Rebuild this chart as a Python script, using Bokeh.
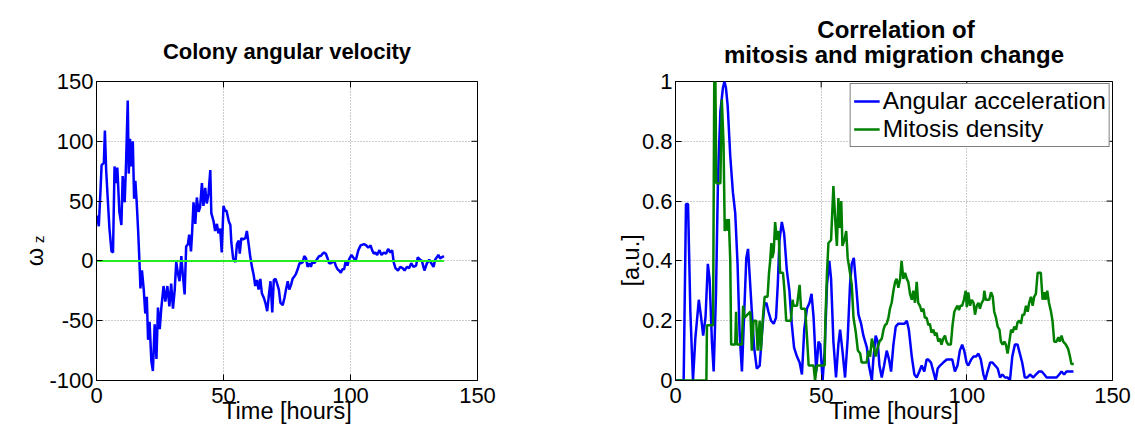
import math
from bokeh.plotting import figure
from bokeh.models import Range1d, LinearAxis, FixedTicker
from bokeh.layouts import row
from bokeh.embed import file_html
from bokeh.resources import INLINE

FONT = "Liberation Sans"

# ---------------- data: colony angular velocity ----------------
t_omega = [0.25, 0.9, 1.6, 2, 2.9, 3.3, 3.8, 4.4, 5.1, 5.9, 6.5, 7.1, 7.7, 8.2, 9, 9.8, 10.3, 11.1, 11.6,
           12.3, 12.7, 13.2, 13.7, 14.3, 14.8, 15.3, 15.8, 16.4, 16.9, 17.3, 17.9, 18.6, 19.2, 19.8, 20.3,
           20.9, 21.6, 22.2, 22.9, 23.6, 24.2, 24.9, 25.5, 26.4, 27.1, 27.9, 28.7, 29.4, 30.1, 30.8, 31.4,
           32.1, 32.7, 33.4, 34.0, 34.7, 35.3, 36, 36.5, 37.2, 37.6, 38.2, 38.9, 39.5, 40.2, 40.8, 41.5,
           42.1, 42.8, 43.4, 44.1, 44.8, 45.2, 46.1, 46.7, 47.4, 48.0, 48.7, 49.3, 50, 50.6,
           51.2, 52.1, 52.7, 53.1, 53.8, 54.7, 55.3, 56, 56.4, 57, 57.7, 58.6, 59.2, 59.9, 60.5, 61.2,
           61.9, 62.5, 63.2, 63.8, 64.5, 65.1, 65.9, 66.5, 67.2, 67.9, 68.5, 69.2, 69.8, 70.5, 71.1, 71.8,
           72.4, 73.3, 74, 74.6, 75.3, 75.9, 76.6, 77.2, 77.9, 78.5, 79.2, 79.9, 80.5, 81.2, 81.8, 82.5,
           83.1, 83.8, 84.4, 85.1, 85.7, 86.4, 87, 87.7, 88.3, 89, 89.6, 90.3, 91, 91.6, 92.3, 92.9, 93.6,
           94.2, 94.9, 95.5, 96.2, 96.8, 97.5, 98.1, 98.8, 99.4,
           100.4, 102, 103.1, 104, 105.3, 106.2, 107, 107.9, 108.5, 109.2, 109.8, 110.5, 111.4, 112.2,
           113.1, 114, 114.8, 115.7, 116.4, 117, 117.7, 118.7, 119.6, 120.5, 121.3, 122.2, 123.1, 123.9,
           124.8, 125.8, 126.5, 127.4, 128.1, 129.1, 130.1, 131, 131.8, 132.7, 133.3, 134, 134.6, 135.3,
           135.9, 136.8]
omega = [38, 29, 60, 80, 82, 109, 76, 53, 27, 8, 7, 79, 65, 78, 41, 30, 71, 49, 79,
         134, 73, 102, 79, 100, 52, 67, 50, 25, 0, -23, -8, -24, -44, -30, -66,
         -51, -84, -92, -53, -82, -39, -57, -40, -21, -34, -21, -38, -19, -40, -24, -1,
         -11, -17, 4, -12, -28, 12, 14, 22, 8, 22, 49, 31, 53, 41, 45, 65,
         46, 61, 48, 56, 76, 40, 33, 25, 31, 23, 27, 7, 46, 42,
         42, 33, 30, 15, 2, -1, 14, 17, 6, 19, 18, 19, 25, 14, 4, -5,
         -12, -21, -16, -24, -15, -27, -31, -35, -42, -28, -17, -43, -16, -15, -19, -24,
         -35, -37, -31, -24, -17, -24, -20, -15, -13, -11, -7, -2, -2, -1, 4, 2,
         -5, -2, -5, 0, -2, 0, 2, 4, 4, 6, 7, 6, 2, -2, -2, -1, 0,
         -4, -7, -8, -10, -7, -7, 0, -4, 1,
         5, 0, 9, 13, 14, 13, 11, 13, 9, 6, 7, 5, 9, 5,
         7, 6, 10, 7, 9, -1, -6, -8, -5, -6, -8, -5, -6, -2,
         -5, -4, 3, 1, 0, -8, -2, 1, -2, -5, 1, 3, 5, 2,
         3, 4]
zero_t = [0, 136.8]
zero_v = [0, 0]

# ---------------- data: correlation plot ----------------
t_acc = [0, 2.8, 3.6, 4.3, 5.1, 6.0, 6.8, 8.0, 8.8, 9.5, 10.3, 11.1, 11.7, 12.5, 13.1, 13.9, 14.6, 15.4,
         16.3, 16.8, 17.3, 17.9, 18.8, 19.7, 20.5, 21.3, 22.0, 22.8, 23.6, 24.3, 24.9, 25.4, 26.2, 27.0,
         27.9, 28.9, 29.7, 30.5, 31.2, 31.9, 32.8, 33.7, 34.5, 35.1, 35.7, 36.5, 37.3, 38.2, 39.1, 39.9,
         40.7, 41.7, 42.6, 43.4, 44.2, 45.1, 46.0, 46.7, 47.4, 48.3, 49.1, 49.7, 50.5, 51.2, 52.0, 52.8,
         53.4, 54.2, 55.1, 55.9, 56.5, 57.3, 58.2, 59.1, 59.9, 60.5, 61.2, 61.9, 62.8, 63.7, 64.5, 65.7,
         66.4, 67.4, 67.9, 68.7, 69.4, 70.0, 70.8, 71.6, 72.5, 73.3, 74.0, 74.8, 75.6, 76.5, 77.6, 78.6,
         79.4, 80.1, 81.1, 82.0, 82.8, 83.7, 84.5, 85.4, 86.2, 86.8, 87.7, 88.5, 89.3, 90.0, 90.8, 91.9,
         93.1, 94.2, 95.0, 95.9, 96.8, 97.6, 98.4, 99.1, 99.9,
         100.5, 101.5, 102.3, 103.1, 104, 104.8, 105.7, 106.3, 107.1, 108, 108.8, 109.7, 110.6, 111.4,
         112.2, 113.1, 114, 114.8, 115.6, 116.5, 117.4, 118.2, 119, 119.9, 120.7, 121.7, 122.8, 123.7,
         124.7, 125.7, 126.6, 127.4, 128.2, 129.1, 130, 130.8, 131.7, 132.5, 133.4, 134.2, 135, 135.9,
         136.6]
acc = [0, 0, 0.59, 0.59, 0.23, 0, 0.14, 0.27, 0.21, 0.15, 0.21, 0.39, 0.34, 0.13, 0.03, 0.29, 0.68, 0.90,
       0.98, 1.0, 0.98, 0.92, 0.75, 0.63, 0.56, 0.39, 0.16, 0.03, 0.23, 0.41, 0.44, 0.36, 0.23, 0.11,
       0.04, 0.05, 0.16, 0.25, 0.26, 0.23, 0.20, 0.19, 0.21, 0.32, 0.47, 0.53, 0.49, 0.37, 0.30, 0.19,
       0.11, 0.08, 0.06, 0.02, 0.17, 0.24, 0.26, 0.29, 0.21, 0.03, 0.13, 0.12, 0, 0.10, 0.32, 0.40,
       0.34, 0.13, 0.01, 0.12, 0.17, 0.10, 0.01, 0.14, 0.32, 0.39, 0.41, 0.33, 0.22, 0.19, 0.15, 0.11,
       0.05, 0, 0.07, 0.15, 0.13, 0.05, 0.01, 0.05, 0.10, 0.07, 0.03, 0.12, 0.18, 0.19, 0.19, 0.19,
       0.20, 0.17, 0.08, 0.02, 0.01, 0.03, 0.05, 0.03, 0.07, 0.07, 0.06, 0.03, 0, 0.04, 0.05, 0.06,
       0.07, 0.07, 0.07, 0.03, 0.05, 0.10, 0.12, 0.10, 0.06,
       0.05, 0.07, 0.08, 0.08, 0.09, 0.07, 0.02, 0, 0.03, 0.06, 0.06, 0.05, 0.04, 0.01,
       0.02, 0.01, 0.01, 0, 0.08, 0.12, 0.12, 0.09, 0.06, 0.01, 0.01, 0.02, 0.01, 0.02,
       0.03, 0.03, 0.02, 0.01, 0.01, 0.01, 0.01, 0.01, 0.02, 0.03, 0.02, 0.03, 0.03, 0.03,
       0.03]
t_mit = [0, 10.6, 10.8, 12.9, 13.3, 13.7, 14.0, 15.4, 15.9, 16.5, 16.9, 17.5, 17.9, 18.3, 18.8, 19.1,
         20.5, 20.8, 21.1, 22.8, 23.2, 23.7, 25.7, 26.2, 26.8, 27.7, 28.2, 28.9, 29.3, 30.0, 30.6, 31.6,
         32.1, 32.5, 32.9, 33.2, 33.7, 34.2, 34.8, 35.4, 35.9, 36.9, 37.4, 38.0, 39.6, 40.2, 40.5, 41.7,
         42.6, 43.1, 44.5, 45.1, 45.7, 47.4, 47.9, 48.5, 51.2, 51.4, 52, 52.5, 53.4, 54.2, 54.8, 55.4,
         55.9, 56.4, 56.9, 57.3, 58, 58.6, 59.1, 59.9, 60.5, 61.1, 61.9, 62.6, 63.4, 63.9, 65.6, 66.2,
         66.8, 67.4, 67.9, 68.7, 69.4, 70, 70.8, 71.4, 71.9, 72.5, 73.1, 73.6, 74.2, 74.8, 75.4, 75.9,
         76.5, 77.1, 77.6, 78.2, 78.8, 79.4, 79.9, 80.5, 81.1, 81.6, 82.2, 82.8, 83.3, 83.9, 84.5, 85.1,
         85.6, 86.2, 86.8, 87.3, 87.9, 88.5, 89.1, 89.6, 90.2, 90.8, 91.3, 91.9, 92.5, 93.0, 93.6, 94.5,
         95.1, 95.7, 96.2, 96.8, 97.3, 97.8, 98.4, 99.0, 99.6, 100.0, 100.5, 101.1, 101.7, 102.3, 102.8,
         103.4, 104, 104.5, 105.1, 105.7, 106, 106.5, 107.2, 107.7, 108.3, 108.9, 109.4, 110, 110.6,
         111.2, 111.7, 112.3, 112.9, 113.4, 114, 114.6, 115.2, 115.7, 116.3, 116.9, 117.4, 118, 118.6,
         119.1, 119.7, 120.3, 120.9, 121.4, 122, 122.6, 123.1, 123.7, 124.3, 124.9, 125.4, 126, 126.6,
         127, 127.6, 128.2, 128.9, 129.4, 130, 130.8, 131.4, 131.9, 132.5, 133.1, 134, 134.8, 135.4,
         135.9, 136.7]
mit = [0, 0, 0.185, 0.185, 1.0, 1.0, 0.66, 0.66, 0.94, 0.79, 0.50, 0.54, 0.50, 0.54, 0.40, 0.12,
       0.12, 0.23, 0.12, 0.12, 0.25, 0.21, 0.23, 0.10, 0.20, 0.20, 0.10, 0.20, 0.10, 0.21, 0.28, 0.28,
       0.36, 0.40, 0.46, 0.41, 0.43, 0.53, 0.47, 0.50, 0.36, 0.36, 0.30, 0.20, 0.20, 0.27, 0.25, 0.25,
       0.32, 0.24, 0.24, 0.15, 0.05, 0.05, 0, 0.05, 0.05, 0.185, 0.36, 0.46, 0.47, 0.65, 0.54, 0.45,
       0.61, 0.51, 0.60, 0.45, 0.47, 0.50, 0.41, 0.36, 0.32, 0.21, 0.16, 0.10, 0.09, 0.06, 0.06, 0.10,
       0.08, 0.14, 0.12, 0.08, 0.11, 0.13, 0.14, 0.17, 0.185, 0.19, 0.21, 0.24, 0.26, 0.30, 0.33, 0.34,
       0.31, 0.34, 0.40, 0.34, 0.36, 0.34, 0.33, 0.29, 0.27, 0.30, 0.26, 0.33, 0.26, 0.25, 0.23, 0.24,
       0.21, 0.21, 0.185, 0.19, 0.16, 0.17, 0.15, 0.16, 0.13, 0.14, 0.12, 0.14, 0.15, 0.13, 0.12, 0.12,
       0.185, 0.23, 0.24, 0.25, 0.235, 0.25, 0.25, 0.27, 0.30, 0.245, 0.295, 0.25, 0.27, 0.26, 0.22,
       0.25, 0.26, 0.24, 0.26, 0.27, 0.30, 0.27, 0.27, 0.27, 0.295, 0.28, 0.23, 0.21, 0.18,
       0.17, 0.13, 0.12, 0.13, 0.12, 0.09, 0.13, 0.17, 0.16, 0.18, 0.17, 0.195, 0.20, 0.19,
       0.22, 0.22, 0.25, 0.23, 0.26, 0.28, 0.25, 0.28, 0.29, 0.36, 0.36, 0.36, 0.27, 0.295,
       0.27, 0.30, 0.26, 0.23, 0.20, 0.13, 0.13, 0.145, 0.13, 0.15, 0.13, 0.12, 0.105, 0.08,
       0.055, 0.055]

x_ticks = [0, 50, 100, 150]
omega_ticks = [-100, -50, 0, 50, 100, 150]
omega_tick_labels = ["-100", "-50", "0", "50", "100", "150"]
au_ticks = [0, 0.2, 0.4, 0.6, 0.8, 1]
au_tick_labels = ["0", "0.2", "0.4", "0.6", "0.8", "1"]

TICK_PX = "22px"
LABEL_PX = "23.5px"
NBSP = "\u00a0"


def style_axis(ax):
    ax.major_tick_in = 6
    ax.major_tick_out = 0
    ax.minor_tick_line_color = None
    ax.axis_line_color = "black"
    ax.major_tick_line_color = "black"
    ax.major_label_text_font = FONT
    ax.major_label_text_font_size = TICK_PX
    ax.major_label_text_color = "black"
    ax.major_label_standoff = 3
    ax.axis_label_text_font = FONT
    ax.axis_label_text_font_size = LABEL_PX
    ax.axis_label_text_font_style = "normal"
    ax.axis_label_text_color = "black"


def make_fig(width, xr, yr, xt, yt, borders):
    l, r, t, b = borders
    p = figure(width=width, height=432, x_range=Range1d(*xr), y_range=Range1d(*yr),
               output_backend="svg", toolbar_location=None,
               min_border_left=l, min_border_right=r, min_border_top=t, min_border_bottom=b)
    p.outline_line_color = "black"
    p.outline_line_width = 1
    p.background_fill_color = "white"
    p.border_fill_color = "white"
    xa = p.below[0]
    ya = p.left[0]
    xa.ticker = FixedTicker(ticks=xt)
    ya.ticker = FixedTicker(ticks=yt)
    style_axis(xa)
    style_axis(ya)
    xa.major_label_standoff = 7
    xa.axis_label = "Time [hours]"
    xa.axis_label_standoff = -8
    for g in (p.xgrid, p.ygrid):
        g.grid_line_color = "#999999"
        g.grid_line_dash = "1 2"
        g.grid_line_width = 1
    p.xgrid.ticker = FixedTicker(ticks=xt)
    p.ygrid.ticker = FixedTicker(ticks=yt)
    # inward ticks on the top and right edges of the box (outer halves clipped by the frame)
    p.scatter(x=xt, y=[yr[1]] * len(xt), marker="dash", size=12, angle=math.pi / 2,
              line_color="black", line_width=1)
    p.scatter(x=[xr[1]] * len(yt), y=yt, marker="dash", size=12,
              line_color="black", line_width=1)
    return p, xa, ya


def bold_title(t, text, size, standoff):
    t.text = text
    t.text_font = FONT
    t.text_font_size = size
    t.text_font_style = "bold"
    t.text_color = "black"
    t.align = "center"
    t.standoff = standoff


# ---------------- left figure ----------------
p1, xa1, ya1 = make_fig(520, (0, 150), (-100, 150), x_ticks, omega_ticks, (96, 43, 77, 49))
ya1.major_label_overrides = {float(k): v for k, v in zip(omega_ticks, omega_tick_labels)}
bold_title(p1.title, "Colony angular velocity", "22px", 36)
p1.line(t_omega, omega, line_color="#0000ff", line_width=2.5)
p1.line(zero_t, zero_v, line_color="#22ee22", line_width=2)
# y label "ω" with subscript "z": inner axis label carries the subscript, outer one the omega
ya1.axis_label = "z" + NBSP * 4
ya1.axis_label_text_font_size = "15px"
ya1.axis_label_standoff = -1
outer = LinearAxis(ticker=FixedTicker(ticks=[]))
style_axis(outer)
outer.axis_line_color = None
outer.major_tick_line_color = None
outer.axis_label = "ω" + NBSP * 8
outer.axis_label_standoff = -20
p1.add_layout(outer, "left")

# ---------------- right figure ----------------
p2, xa2, ya2 = make_fig(615, (0, 150), (0, 1), x_ticks, au_ticks, (155, 23, 81, 52))
ya2.major_label_overrides = {float(k): v for k, v in zip(au_ticks, au_tick_labels)}
ya2.axis_label = "[a.u.]" + NBSP * 9
ya2.axis_label_standoff = -5
# two-line title; the first line is padded so that both lines appear centred
bold_title(p2.title, NBSP * 14 + "Correlation of\nmitosis and migration change", "24px", 26)
p2.title.text_line_height = 0.95
p2.line(t_acc, acc, line_color="#0000ff", line_width=2.5, legend_label="Angular acceleration")
p2.line(t_mit, mit, line_color="#008000", line_width=2.5, legend_label="Mitosis density")
lg = p2.legend[0]
lg.location = "top_right"
lg.margin = 2
lg.padding = 3
lg.spacing = 0
lg.label_text_font = FONT
lg.label_text_font_size = "24.5px"
lg.label_text_color = "black"
lg.label_height = 28
lg.glyph_height = 28
lg.glyph_width = 26
lg.label_standoff = 3
lg.border_line_color = "black"
lg.border_line_width = 1
lg.background_fill_alpha = 1

layout = row(p1, p2)
open("out.html", "w").write(file_html(layout, INLINE))
